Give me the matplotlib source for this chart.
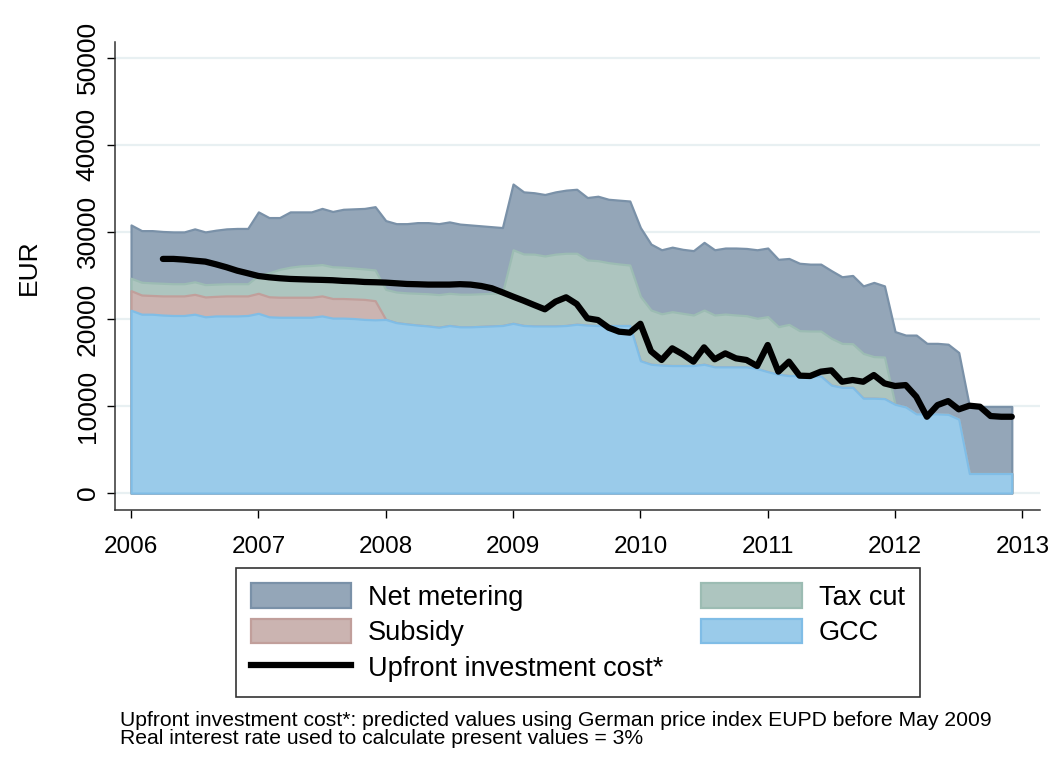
import numpy as np
import matplotlib
matplotlib.use('Agg')
import matplotlib.pyplot as plt
from matplotlib.patches import Patch
from matplotlib.lines import Line2D

plt.rcParams['font.family'] = ['Liberation Sans', 'DejaVu Sans']

# monthly, Jan 2006 .. Dec 2012
months = 2006 + np.arange(84) / 12.0

gcc = [21000, 20550, 20550, 20450, 20400, 20400, 20550, 20250, 20350, 20350, 20350, 20400,
       20650, 20250, 20200, 20200, 20200, 20200, 20350, 20100, 20100, 20050, 19950, 19900,
       19950, 19580, 19430, 19300, 19200, 19050, 19250, 19100, 19100, 19150, 19200, 19250,
       19500, 19250, 19200, 19200, 19200, 19250, 19400, 19300, 19250, 19250, 19250, 19250,
       15200, 14800, 14700, 14650, 14650, 14650, 14800, 14500, 14500, 14500, 14500, 14300,
       13950, 13650, 13500, 13500, 13450, 13450, 12400, 12150, 12150, 10900, 10900, 10850,
       10200, 9900, 9100, 9100, 9100, 9050, 8500, 2250, 2250, 2250, 2250, 2250]

subsidy = [2250, 2200, 2150, 2200, 2250, 2250, 2280, 2280, 2250, 2300, 2300, 2250,
           2300, 2300, 2300, 2300, 2300, 2300, 2300, 2250, 2250, 2250, 2300, 2200] + [0] * 60

tax_cut = [1430, 1470, 1450, 1450, 1400, 1400, 1440, 1420, 1400, 1400, 1400, 1400,
           2050, 2750, 3200, 3450, 3600, 3650, 3600, 3650, 3600, 3550, 3500, 3530,
           3450, 3520, 3570, 3650, 3700, 3750, 3700, 3750, 3750, 3750, 3750, 3750,
           8450, 8220, 8250, 8040, 8250, 8300, 8150, 7480, 7450, 7220, 7070, 6950,
           7400, 6230, 5900, 6190, 6000, 5810, 6230, 5960, 6070, 5960, 5880, 5780,
           6320, 5470, 5880, 5160, 5170, 5170, 5380, 5050, 5010, 5150, 4780, 4780] + [0] * 12

net_metering = [6120, 5930, 6000, 5950, 5950, 5950, 6080, 6050, 6200, 6300, 6350, 6350,
                7300, 6350, 5950, 6350, 6200, 6150, 6450, 6350, 6650, 6800, 6950, 7270,
                7900, 7850, 7950, 8120, 8170, 8150, 8200, 8050, 7950, 7800, 7650, 7500,
                7550, 7130, 7050, 7060, 7150, 7250, 7350, 7170, 7400, 7280, 7330, 7350,
                7900, 7570, 7350, 7410, 7350, 7390, 7770, 7490, 7580, 7690, 7720, 7870,
                7880, 7730, 7570, 7740, 7680, 7680, 7770, 7650, 7840, 7750, 8520, 8170,
                8350, 8250, 9050, 8100, 8100, 8050, 7650, 7750, 7700, 7700, 7700, 7700]

# upfront investment cost, Apr 2006 .. Dec 2012
upfront = [26900, 26900, 26820, 26700, 26590, 26280, 25940, 25550, 25250,
           24940, 24790, 24680, 24600, 24560, 24520, 24490, 24450, 24370, 24330, 24250, 24220,
           24180, 24100, 24020, 23990, 23950, 23950, 23950, 24000, 23950, 23790, 23530, 23060,
           22570, 22100, 21600, 21110, 21990, 22490, 21720, 20080, 19880, 19000, 18540, 18430,
           19450, 16300, 15290, 16630, 15940, 15100, 16740, 15370, 16050, 15480, 15290, 14600,
           17010, 13950, 15100, 13490, 13450, 13950, 14100, 12790, 12990, 12790, 13560, 12600,
           12300, 12410, 11070, 8770, 10110, 10570, 9620, 10040, 9920, 8850, 8770, 8770]
upfront_x = months[3:]

# colours: fill, edge
col = {
    'Net metering': ('#94a6b8', '#7a91a8'),
    'Subsidy': ('#cbb4b1', '#c19f9b'),
    'Tax cut': ('#adc5bf', '#9cbcb3'),
    'GCC': ('#9acbea', '#80bde6'),
}

c_gcc = np.array(gcc)
c_sub = c_gcc + np.array(subsidy)
c_tax = c_sub + np.array(tax_cut)
c_net = c_tax + np.array(net_metering)

fig = plt.figure(figsize=(10.55, 7.74), dpi=100)
ax = fig.add_axes([0.109, 0.341, 0.877, 0.605])

# stata style: each cumulative area drawn from zero, largest first
for name, tops in [('Net metering', c_net), ('Tax cut', c_tax), ('Subsidy', c_sub), ('GCC', c_gcc)]:
    fc, ec = col[name]
    ax.fill_between(months, 0, tops, facecolor=fc, edgecolor=ec, linewidth=1.6, zorder=2)

ax.plot(upfront_x, upfront, color='black', linewidth=4.5, solid_capstyle='round',
        solid_joinstyle='round', zorder=3)

ax.set_xlim(2005.874, 2013.14)
ax.set_ylim(-1950, 51840)
ax.set_xticks(range(2006, 2014))
ax.set_yticks(range(0, 50001, 10000))
ax.tick_params(axis='x', labelsize=17.5, length=6, width=1, pad=13)
ax.tick_params(axis='y', labelsize=19, length=6, width=1, pad=5)
for t in ax.get_yticklabels():
    t.set_rotation(90)
    t.set_va('center')
ax.set_ylabel('EUR', fontsize=19)
ax.yaxis.set_label_coords(-0.08, 0.519)
ax.grid(axis='y', color='#e8f0f2', linewidth=1.6, zorder=0)
ax.set_axisbelow(True)
for s in ['top', 'right']:
    ax.spines[s].set_visible(False)
for s in ['left', 'bottom']:
    ax.spines[s].set_color('#333333')
    ax.spines[s].set_linewidth(1.1)

def patch(name):
    return Patch(facecolor=col[name][0], edgecolor=col[name][1], linewidth=1.6)

handles = [patch('Net metering'), patch('Subsidy'), Line2D([], [], color='black', linewidth=4.5),
           patch('Tax cut'), patch('GCC')]
leg_labels = ['Net metering', 'Subsidy', 'Upfront investment cost*', 'Tax cut', 'GCC']
leg = fig.legend(handles, leg_labels, ncol=2, loc='upper left', bbox_to_anchor=(0.2237, 0.2661),
                 fontsize=19.5, frameon=True, fancybox=False, edgecolor='black',
                 handlelength=3.7, handleheight=1.03, handletextpad=0.63, labelspacing=0.3,
                 columnspacing=1.4, borderpad=0.55, borderaxespad=0)
leg.get_frame().set_linewidth(1.2)

fig.text(0.1137, 0.0575, 'Upfront investment cost*: predicted values using German price index EUPD before May 2009\n'
         'Real interest rate used to calculate present values = 3%', fontsize=15.2, linespacing=0.92,
         va='center')

fig.savefig('out.png', dpi=100)
